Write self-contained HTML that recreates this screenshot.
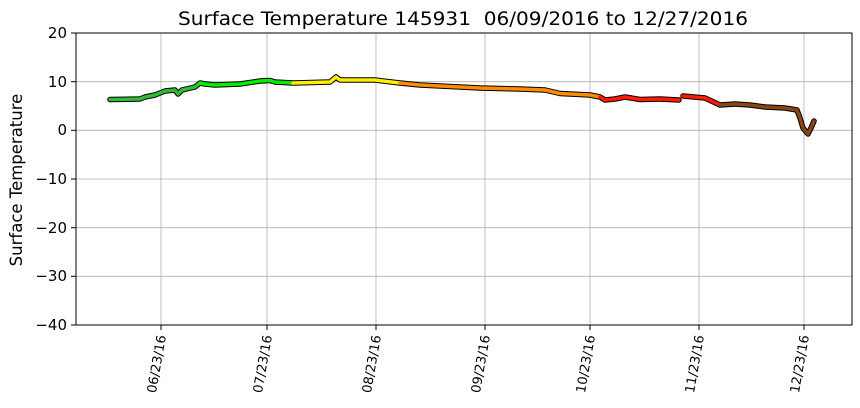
<!DOCTYPE html>
<html><head><style>body{margin:0;background:#fff}svg{display:block;font-family:"DejaVu Sans","Liberation Sans",sans-serif}</style></head><body>
<svg width="860" height="408" viewBox="0 0 860 408">
<g stroke="#b0b0b0" stroke-width="0.8">
<line x1="161" y1="33" x2="161" y2="325"/><line x1="267" y1="33" x2="267" y2="325"/><line x1="376" y1="33" x2="376" y2="325"/><line x1="485" y1="33" x2="485" y2="325"/><line x1="590" y1="33" x2="590" y2="325"/><line x1="699" y1="33" x2="699" y2="325"/><line x1="804" y1="33" x2="804" y2="325"/>
<line x1="76" y1="81.7" x2="852" y2="81.7"/><line x1="76" y1="130.3" x2="852" y2="130.3"/><line x1="76" y1="179" x2="852" y2="179"/><line x1="76" y1="227.7" x2="852" y2="227.7"/><line x1="76" y1="276.3" x2="852" y2="276.3"/>
</g>
<g fill="none" stroke-linejoin="round" stroke-linecap="round">
<g stroke="#000" stroke-width="5.5">
<polyline points="110,99.5 140,99 145,97 155,95 165,91 175,90 178,94 182,90 195,87 200,83 205,84 215,85 240,84 260,81 270,80.5 275,82 293,83 330,82 336,77 340,80 375,80 400,83 420,85 480,88 520,89 545,90 560,93.5 590,95 600,97 605,100 615,99 625,97 640,99.5 660,99 679,100"/>
<polyline points="683,96 705,98 720,105 735,104 750,105 765,107 785,108 797,110 800,118 803,128 808,134 811,128 814,121"/>
</g>
<g stroke-width="3.5">
<polyline stroke="#33bb33" points="110,99.5 140,99 145,97 155,95 165,91 175,90 178,94 182,90 195,87 200,83"/>
<polyline stroke="#00ee00" points="200,83 205,84 215,85 240,84 260,81 270,80.5 275,82 293,83"/>
<polyline stroke="#ffee00" points="293,83 330,82 336,77 340,80 375,80 400,83"/>
<polyline stroke="#ff8c00" points="400,83 420,85 480,88 520,89 545,90 560,93.5 590,95 600,97"/>
<polyline stroke="#ff1a00" points="600,97 605,100 615,99 625,97 640,99.5 660,99 679,100"/>
<polyline stroke="#ff1a00" points="683,96 705,98 720,105"/>
<polyline stroke="#8b4513" points="720,105 735,104 750,105 765,107 785,108 797,110 800,118 803,128 808,134 811,128 814,121"/>
</g>
</g>
<rect x="76" y="33" width="776" height="292" fill="none" stroke="#000" stroke-width="1"/>
<g stroke="#000"><line x1="71" y1="33" x2="76" y2="33"/><line x1="71" y1="81.7" x2="76" y2="81.7"/><line x1="71" y1="130.3" x2="76" y2="130.3"/><line x1="71" y1="179" x2="76" y2="179"/><line x1="71" y1="227.7" x2="76" y2="227.7"/><line x1="71" y1="276.3" x2="76" y2="276.3"/><line x1="71" y1="325" x2="76" y2="325"/>
<line x1="161" y1="325" x2="161" y2="330"/><line x1="267" y1="325" x2="267" y2="330"/><line x1="376" y1="325" x2="376" y2="330"/><line x1="485" y1="325" x2="485" y2="330"/><line x1="590" y1="325" x2="590" y2="330"/><line x1="699" y1="325" x2="699" y2="330"/><line x1="804" y1="325" x2="804" y2="330"/></g>
<g font-size="15" text-anchor="end"><text x="67" y="38">20</text><text x="67" y="87">10</text><text x="67" y="135">0</text><text x="67" y="184">−10</text><text x="67" y="233">−20</text><text x="67" y="281">−30</text><text x="67" y="330">−40</text></g>
<g font-size="13" text-anchor="end">
<text transform="translate(166,336) rotate(-80)">06/23/16</text><text transform="translate(272,336) rotate(-80)">07/23/16</text><text transform="translate(381,336) rotate(-80)">08/23/16</text><text transform="translate(490,336) rotate(-80)">09/23/16</text><text transform="translate(595,336) rotate(-80)">10/23/16</text><text transform="translate(704,336) rotate(-80)">11/23/16</text><text transform="translate(809,336) rotate(-80)">12/23/16</text></g>
<text transform="translate(22,180) rotate(-90)" font-size="16.5" text-anchor="middle">Surface Temperature</text>
<text x="463" y="25" font-size="19" text-anchor="middle" textLength="570" lengthAdjust="spacingAndGlyphs" xml:space="preserve">Surface Temperature 145931  06/09/2016 to 12/27/2016</text>
</svg></body></html>
